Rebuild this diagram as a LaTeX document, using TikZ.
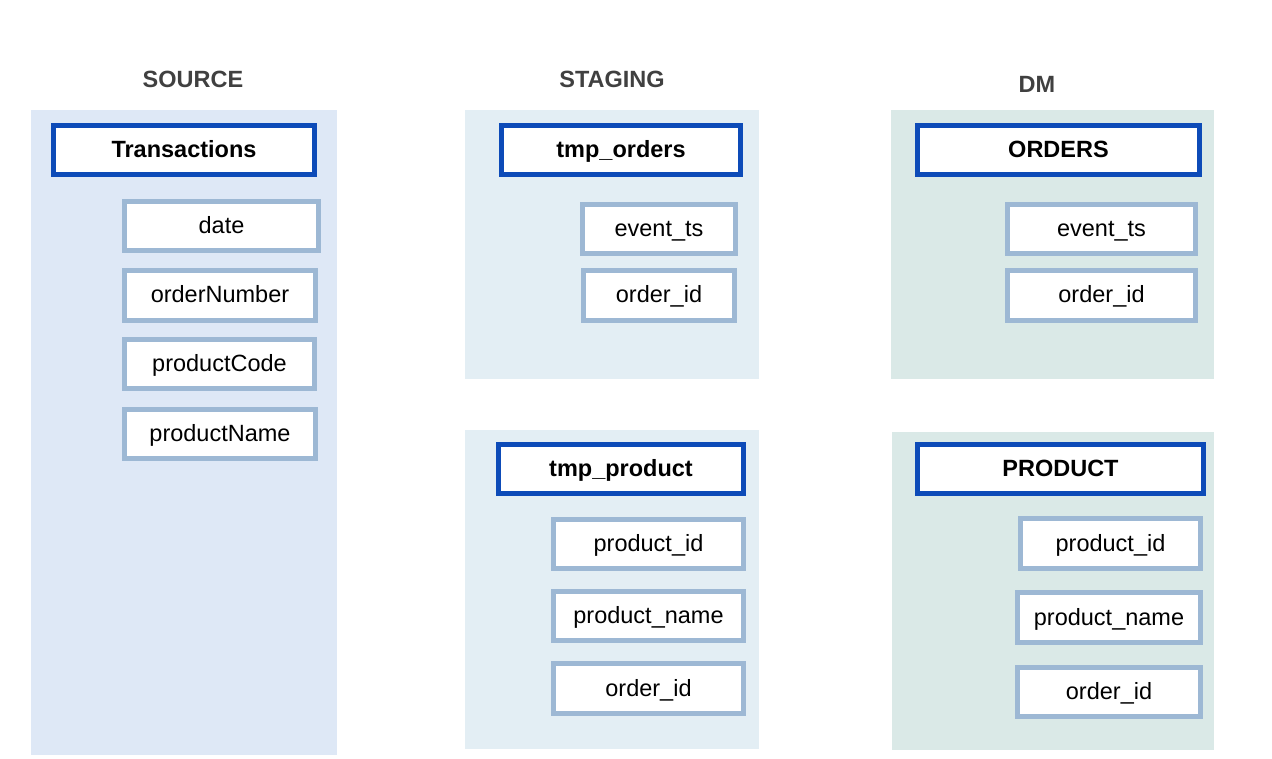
\documentclass[tikz,border=0pt]{standalone}
\usepackage{fontspec}
\setmainfont{Liberation Sans}
\definecolor{hdrblue}{HTML}{0D4BB8}
\definecolor{fldblue}{HTML}{9DB8D4}
\definecolor{srcbg}{HTML}{DEE8F6}
\definecolor{stgbg}{HTML}{E3EEF4}
\definecolor{dmbg}{HTML}{DAE9E7}
\definecolor{ttlgray}{HTML}{404040}
\tikzset{
  box/.style={draw, line width=5pt, fill=white, inner sep=0pt, align=center,
    font=\fontsize{23.5}{28}\selectfont, text height=15pt, text depth=0pt},
  hdr/.style={box, draw=hdrblue, font=\fontsize{23.5}{28}\selectfont\bfseries, minimum height=49pt},
  fld/.style={box, draw=fldblue},
  ttl/.style={inner sep=0pt, text=ttlgray, font=\fontsize{23.5}{28}\selectfont\bfseries, text height=15pt, text depth=0pt}
}
\begin{document}
\begin{tikzpicture}[x=1pt,y=-1pt]
\useasboundingbox (0,0) rectangle (1272,759);
% panels
\fill[srcbg] (31,110) rectangle (337,755);
\fill[stgbg] (465,110) rectangle (759,379);
\fill[stgbg] (465,430) rectangle (759,749);
\fill[dmbg] (891,110) rectangle (1214,379);
\fill[dmbg] (892,432) rectangle (1214,750);
% titles
\node[ttl] (tsrc) at (193,80) {SOURCE};
\node[ttl] (tstg) at (612,80) {STAGING};
\node[ttl] (tdm) at (1037,85) {DM};
% source
\node[hdr, minimum width=261pt] (trans) at (184,150) {Transactions};
\node[fld, minimum width=194pt, minimum height=49pt] (date) at (221.5,226) {date};
\node[fld, minimum width=191pt, minimum height=50pt] (ordnum) at (220,295.5) {orderNumber};
\node[fld, minimum width=190pt, minimum height=49pt] (pcode) at (219.5,364) {productCode};
\node[fld, minimum width=191pt, minimum height=49pt] (pname) at (220,434) {productName};
% staging orders
\node[hdr, minimum width=239pt] (tmpo) at (621,150) {tmp\_orders};
\node[fld, minimum width=153pt, minimum height=49pt] (sevt) at (659,229) {event\_ts};
\node[fld, minimum width=151pt, minimum height=50pt] (sord) at (659,295.5) {order\_id};
% staging product
\node[hdr, minimum width=245pt] (tmpp) at (621,469) {tmp\_product};
\node[fld, minimum width=190pt, minimum height=49pt] (spid) at (648.5,544) {product\_id};
\node[fld, minimum width=190pt, minimum height=49pt] (spname) at (648.5,616) {product\_name};
\node[fld, minimum width=190pt, minimum height=50pt] (soid) at (648.5,688.5) {order\_id};
% dm orders
\node[hdr, minimum width=282pt] (orders) at (1058.5,150) {ORDERS};
\node[fld, minimum width=188pt, minimum height=49pt] (devt) at (1101.5,229) {event\_ts};
\node[fld, minimum width=188pt, minimum height=50pt] (dord) at (1101.5,295.5) {order\_id};
% dm product
\node[hdr, minimum width=286pt] (product) at (1060.5,469) {PRODUCT};
\node[fld, minimum width=180pt, minimum height=50pt] (dpid) at (1110.5,543.5) {product\_id};
\node[fld, minimum width=183pt, minimum height=50pt] (dpname) at (1109,617.5) {product\_name};
\node[fld, minimum width=183pt, minimum height=49pt] (doid) at (1109,692) {order\_id};
\end{tikzpicture}
\end{document}
